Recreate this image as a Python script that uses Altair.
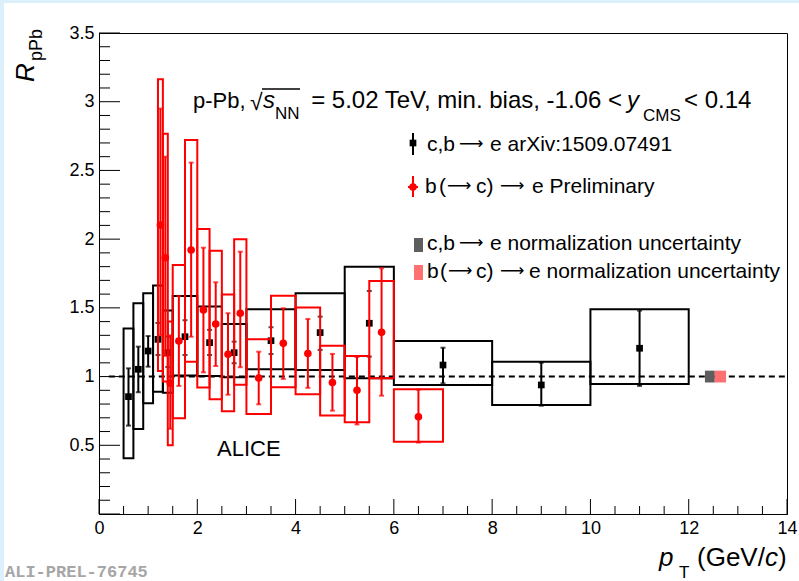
import altair as alt
import pandas as pd

FONT = "Liberation Sans"
W, H = 688, 481          # plot area in pixels
PAD_L, PAD_T = 99, 33    # space for the axis labels and titles

# ---- c,b -> e  (arXiv:1509.07491) ----
cb_pt_lo = [0.5, 0.7, 0.9, 1.1, 1.3, 1.5, 2.0, 2.5, 3.0, 4.0, 5.0, 6.0, 8.0, 10.0]
cb_pt_hi = [0.7, 0.9, 1.1, 1.3, 1.5, 2.0, 2.5, 3.0, 4.0, 5.0, 6.0, 8.0, 10.0, 12.0]
cb_rppb = [0.854, 1.053, 1.186, 1.271, 1.174, 1.290, 1.247, 1.174, 1.261, 1.320, 1.388, 1.084, 0.939, 1.206]
cb_stat_lo = [0.643, 0.886, 1.072, 1.157, 1.070, 1.157, 1.157, 1.097, 1.164, 1.194, 1.145, 0.951, 0.788, 0.932]
cb_stat_hi = [1.060, 1.218, 1.295, 1.390, 1.290, 1.410, 1.340, 1.254, 1.359, 1.436, 1.623, 1.210, 1.101, 1.480]
cb_syst_lo = [0.405, 0.619, 0.806, 0.890, 0.883, 1.007, 1.004, 0.995, 1.053, 1.048, 0.988, 0.939, 0.793, 0.946]
cb_syst_hi = [1.350, 1.533, 1.606, 1.662, 1.480, 1.587, 1.509, 1.383, 1.490, 1.606, 1.800, 1.259, 1.108, 1.490]

# ---- b (-> c) -> e  (preliminary) ----
b_pt_lo = [1.2, 1.3, 1.4, 1.5, 1.75, 2.0, 2.25, 2.5, 2.75, 3.0, 3.5, 4.0, 4.5, 5.0, 5.5, 6.0]
b_pt_hi = [1.3, 1.4, 1.5, 1.75, 2.0, 2.25, 2.5, 2.75, 3.0, 3.5, 4.0, 4.5, 5.0, 5.5, 6.0, 7.0]
b_rppb = [2.103, 1.865, 0.951, 1.259, 1.921, 1.485, 1.383, 1.162, 1.461, 0.990, 1.242, 1.168, 0.956, 0.900, 1.322, 0.708]
b_stat_lo = [1.300, 1.150, 0.620, 0.932, 1.290, 1.031, 1.077, 0.868, 1.068, 0.798, 0.983, 0.918, 0.752, 0.652, 0.861, 0.520]
b_stat_hi = [2.950, 2.600, 1.300, 1.587, 2.557, 1.938, 1.686, 1.461, 1.909, 1.181, 1.497, 1.419, 1.165, 1.142, 1.788, 0.905]
b_syst_lo = [1.040, 0.965, 0.500, 0.697, 1.108, 0.920, 0.835, 0.748, 0.940, 0.728, 0.922, 0.871, 0.716, 0.668, 0.988, 0.526]
b_syst_hi = [3.164, 2.766, 1.400, 1.812, 2.722, 2.074, 1.916, 1.598, 1.999, 1.272, 1.589, 1.502, 1.225, 1.150, 1.696, 0.907]

# normalization uncertainties (c,b -> e ; b -> e), drawn around unity
norm_pt_lo = [12.33, 12.53]
norm_pt_hi = [12.53, 12.76]
norm_unc = [0.043, 0.043]
norm_name = ["cb", "b"]

# axis ticks
x_tick_labels = [0, 2, 4, 6, 8, 10, 12, 14]
y_tick_labels = [0.5, 1.0, 1.5, 2.0, 2.5, 3.0, 3.5]
x_major = [0, 2, 4, 6, 8, 10, 12, 14]
x_minor = [0.5 * i for i in range(1, 28) if i % 4]
y_major = [0.0, 0.5, 1.0, 1.5, 2.0, 2.5, 3.0, 3.5]
y_minor = [round(0.1 * i, 1) for i in range(1, 35) if i % 5]

cb = pd.DataFrame({"lo": cb_pt_lo, "hi": cb_pt_hi, "r": cb_rppb,
                   "slo": cb_stat_lo, "shi": cb_stat_hi,
                   "ylo": cb_syst_lo, "yhi": cb_syst_hi})
cb["pt"] = (cb["lo"] + cb["hi"]) / 2
bb = pd.DataFrame({"lo": b_pt_lo, "hi": b_pt_hi, "r": b_rppb,
                   "slo": b_stat_lo, "shi": b_stat_hi,
                   "ylo": b_syst_lo, "yhi": b_syst_hi})
bb["pt"] = (bb["lo"] + bb["hi"]) / 2
norm = pd.DataFrame({"lo": norm_pt_lo, "hi": norm_pt_hi, "u": norm_unc, "name": norm_name})
norm["ylo"] = 1 - norm["u"]
norm["yhi"] = 1 + norm["u"]

xs = alt.Scale(domain=[0, 14], nice=False, zero=False)
ys = alt.Scale(domain=[0, 3.5], nice=False, zero=False)

# one shared axis definition per channel, used by every layer
XA = alt.Axis(values=x_tick_labels, ticks=False, tickSize=0, grid=False, title=None,
              labelFont=FONT, labelFontSize=18, labelColor="black", labelPadding=5,
              domainColor="black", domainWidth=1, labelFlush=False, labelOverlap=False)
YA = alt.Axis(values=y_tick_labels, ticks=False, tickSize=0, grid=False, title=None,
              labelFont=FONT, labelFontSize=18, labelColor="black", labelPadding=5,
              domainColor="black", domainWidth=1, labelOverlap=False,
              labelExpr="datum.value % 1 == 0 ? format(datum.value, 'd') : format(datum.value, '.1f')")


def X(f):
    return alt.X(f, type="quantitative", scale=xs, axis=XA)


def Y(f):
    return alt.Y(f, type="quantitative", scale=ys, axis=YA)


RED = "#ff0000"
BLK = "#000000"
ARROW = "\u27f6"

# unity reference line
unity = alt.Chart(pd.DataFrame({"x0": [0.2], "x1": [14.0], "y": [1.0]})).mark_rule(
    color=BLK, strokeWidth=2, strokeDash=[6, 4]
).encode(x=X("x0"), x2="x1", y=Y("y"))


def series(df, color, shape, msize, full_stat_filter=None):
    boxes = alt.Chart(df).mark_rect(fillOpacity=0, stroke=color, strokeWidth=2).encode(
        x=X("lo"), x2="hi", y=Y("ylo"), y2="yhi")
    stat_src = alt.Chart(df)
    if full_stat_filter is not None:
        stat_src = stat_src.transform_filter(full_stat_filter)
    bars = stat_src.mark_rule(color=color, strokeWidth=2).encode(
        x=X("pt"), y=Y("slo"), y2="shi")
    cap_lo = alt.Chart(df).mark_tick(color=color, orient="horizontal", size=5, thickness=2).encode(
        x=X("pt"), y=Y("slo"))
    cap_hi = alt.Chart(df).mark_tick(color=color, orient="horizontal", size=5, thickness=2).encode(
        x=X("pt"), y=Y("shi"))
    pts = alt.Chart(df).mark_point(shape=shape, filled=True, size=msize, color=color,
                                   opacity=1, strokeWidth=0).encode(x=X("pt"), y=Y("r"))
    return [boxes, bars, cap_lo, cap_hi, pts]


cb_layers = series(cb, BLK, "square", 45,
                   full_stat_filter=(alt.datum.pt < 1.1) | (alt.datum.pt > 6))
b_layers = series(bb, RED, "circle", 58)

norm_boxes = alt.Chart(norm).mark_rect(strokeWidth=0).encode(
    x=X("lo"), x2="hi", y=Y("ylo"), y2="yhi",
    color=alt.Color("name:N", scale=alt.Scale(domain=["cb", "b"], range=["#5e5e5e", "#ff7070"]),
                    legend=None))

# inward ROOT-style ticks
one = pd.DataFrame({"a": [0]})
ytick_major = alt.Chart(pd.DataFrame({"v": y_major})).mark_rule(color=BLK, strokeWidth=1).encode(
    y=Y("v"), x=alt.value(0), x2=alt.value(21))
ytick_minor = alt.Chart(pd.DataFrame({"v": y_minor})).mark_rule(color=BLK, strokeWidth=1).encode(
    y=Y("v"), x=alt.value(0), x2=alt.value(11))
xtick_major = alt.Chart(pd.DataFrame({"v": x_major})).mark_rule(color=BLK, strokeWidth=1).encode(
    x=X("v"), y=alt.value(H), y2=alt.value(H - 15))
xtick_minor = alt.Chart(pd.DataFrame({"v": x_minor})).mark_rule(color=BLK, strokeWidth=1).encode(
    x=X("v"), y=alt.value(H), y2=alt.value(H - 8))


def txt(s, x, y, size=21, style="normal", align="left", angle=0, font=FONT,
        color=BLK, weight="normal"):
    return alt.Chart(pd.DataFrame({"s": [s]})).mark_text(
        align=align, baseline="alphabetic", fontSize=size, fontStyle=style, font=font,
        color=color, angle=angle, fontWeight=weight
    ).encode(x=alt.value(x - PAD_L), y=alt.value(y - PAD_T), text="s:N")


def arrow(x, baseline):
    return txt(ARROW, x, baseline - 2, size=17, font="DejaVu Sans")


def box(x0, x1, y0, y1, color):
    return alt.Chart(one).mark_rect(color=color, strokeWidth=0).encode(
        x=alt.value(x0 - PAD_L), x2=alt.value(x1 - PAD_L),
        y=alt.value(y0 - PAD_T), y2=alt.value(y1 - PAD_T))


def line(x0, x1, y0, y1, color=BLK, width=2):
    return alt.Chart(one).mark_rule(color=color, strokeWidth=width).encode(
        x=alt.value(x0 - PAD_L), x2=alt.value(x1 - PAD_L),
        y=alt.value(y0 - PAD_T), y2=alt.value(y1 - PAD_T))


def sym(x, y, shape, size, color):
    return alt.Chart(one).mark_point(shape=shape, filled=True, size=size, color=color,
                                     opacity=1, strokeWidth=0).encode(
        x=alt.value(x - PAD_L), y=alt.value(y - PAD_T))


# canvas edge
edge = [box(0, 4, 0, 581, "#dcf0fb"), box(0, 799, 0, 3, "#dcf0fb")]

# header
header = [
    txt("p-Pb,", 193, 108, size=22),
    txt("\u221a", 250, 110, size=23),
    line(262, 300, 89, 89, width=1.5),
    txt("s", 263, 108, size=24, style="italic"),
    txt("NN", 275, 119, size=17),
    txt("= 5.02 TeV, min. bias, -1.06 <", 622, 108, size=24, align="right"),
    txt("y", 627, 108, size=24, style="italic"),
    txt("CMS", 643, 121, size=17),
    txt("< 0.14", 684, 108, size=24),
]

# legend
legend = [
    line(413, 413, 133, 155),
    sym(413, 143, "square", 45, BLK),
    txt("c,b", 427, 151), arrow(459, 151), txt("e arXiv:1509.07491", 490, 151),

    line(413, 413, 176, 197, color=RED),
    line(408, 418, 187, 187, color=RED),
    sym(413, 187, "circle", 58, RED),
    txt("b", 425, 193), txt("(", 439, 193), arrow(447, 193), txt("c)", 476, 193),
    arrow(500, 193), txt("e Preliminary", 532, 193),

    box(414, 423, 238, 252, "#5e5e5e"),
    txt("c,b", 427, 250), arrow(459, 250), txt("e normalization uncertainty", 490, 250),

    box(414, 423, 265, 280, "#ff7070"),
    txt("b", 427, 278), txt("(", 440, 278), arrow(448, 278), txt("c)", 476, 278),
    arrow(500, 278), txt("e normalization uncertainty", 529, 278),
]

labels = [
    txt("ALICE", 217, 456, size=22),
    # y title
    txt("R", 34, 82, size=26, style="italic", angle=270),
    txt("pPb", 42, 61, size=18, angle=270),
    # x title
    txt("p", 659, 566, size=26, style="italic"),
    txt("T", 679, 578, size=17),
    txt("(GeV/", 697, 566, size=26),
    txt("c", 765, 566, size=26, style="italic"),
    txt(")", 778, 566, size=26),
    txt("ALI-PREL-76745", 5, 577, size=17, font="Liberation Mono", weight="bold", color="#a6a6a6"),
]

chart = alt.layer(
    *edge,
    unity,
    *cb_layers,
    *b_layers,
    norm_boxes,
    ytick_major, ytick_minor, xtick_major, xtick_minor,
    *header, *legend, *labels,
).properties(
    width=W, height=H,
    padding={"left": PAD_L, "top": PAD_T, "right": 799 - PAD_L - W, "bottom": 581 - PAD_T - H},
    autosize=alt.AutoSizeParams(type="none"),
    background="white",
).configure_view(stroke=BLK, strokeWidth=1)

chart.save("out.html", embed_options={"renderer": "svg", "actions": False})
